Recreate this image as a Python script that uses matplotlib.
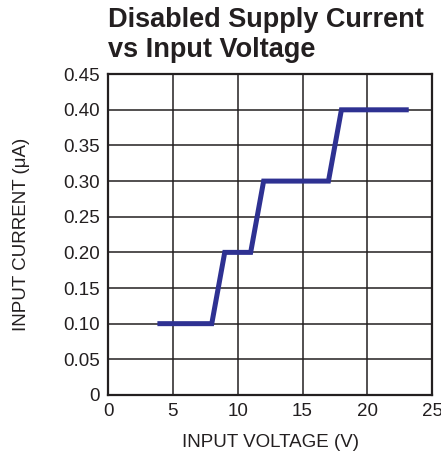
import matplotlib
matplotlib.use("Agg")
import matplotlib.pyplot as plt

plt.rcParams['font.family'] = ['Liberation Sans', 'DejaVu Sans']

# step curve
voltage = [4, 8, 9, 11, 12, 17, 18, 23]
current = [0.10, 0.10, 0.20, 0.20, 0.30, 0.30, 0.40, 0.40]

x_ticks = [0, 5, 10, 15, 20, 25]
y_ticks = [0, 0.05, 0.10, 0.15, 0.20, 0.25, 0.30, 0.35, 0.40, 0.45]
y_labels = ['0', '0.05', '0.10', '0.15', '0.20', '0.25', '0.30', '0.35', '0.40', '0.45']

fig = plt.figure(figsize=(4.41, 4.55), dpi=100)
ax = fig.add_axes([0.245, 0.132, 0.735, 0.705])

ax.plot(voltage, current, color='#2e3192', linewidth=3.6, solid_joinstyle='miter', zorder=3)

ax.set_xlim(0, 25)
ax.set_ylim(0, 0.45)
ax.set_xticks(x_ticks)
ax.set_yticks(y_ticks)
ax.set_yticklabels(y_labels)
ax.tick_params(length=0, labelsize=13.5, pad=6, colors='#231f20')
ax.grid(True, color='#231f20', linewidth=1.1)
for s in ax.spines.values():
    s.set_linewidth(1.6)
    s.set_color('#231f20')

ax.set_xlabel('INPUT VOLTAGE (V)', fontsize=13.5, color='#231f20', labelpad=10)
ax.set_ylabel('INPUT CURRENT (μA)', fontsize=13.5, color='#231f20', labelpad=24)

fig.text(0.245, 0.985, 'Disabled Supply Current\nvs Input Voltage', fontsize=19.5,
         fontweight='bold', color='#231f20', ha='left', va='top', linespacing=1.2)

fig.savefig('out.png', dpi=100)
